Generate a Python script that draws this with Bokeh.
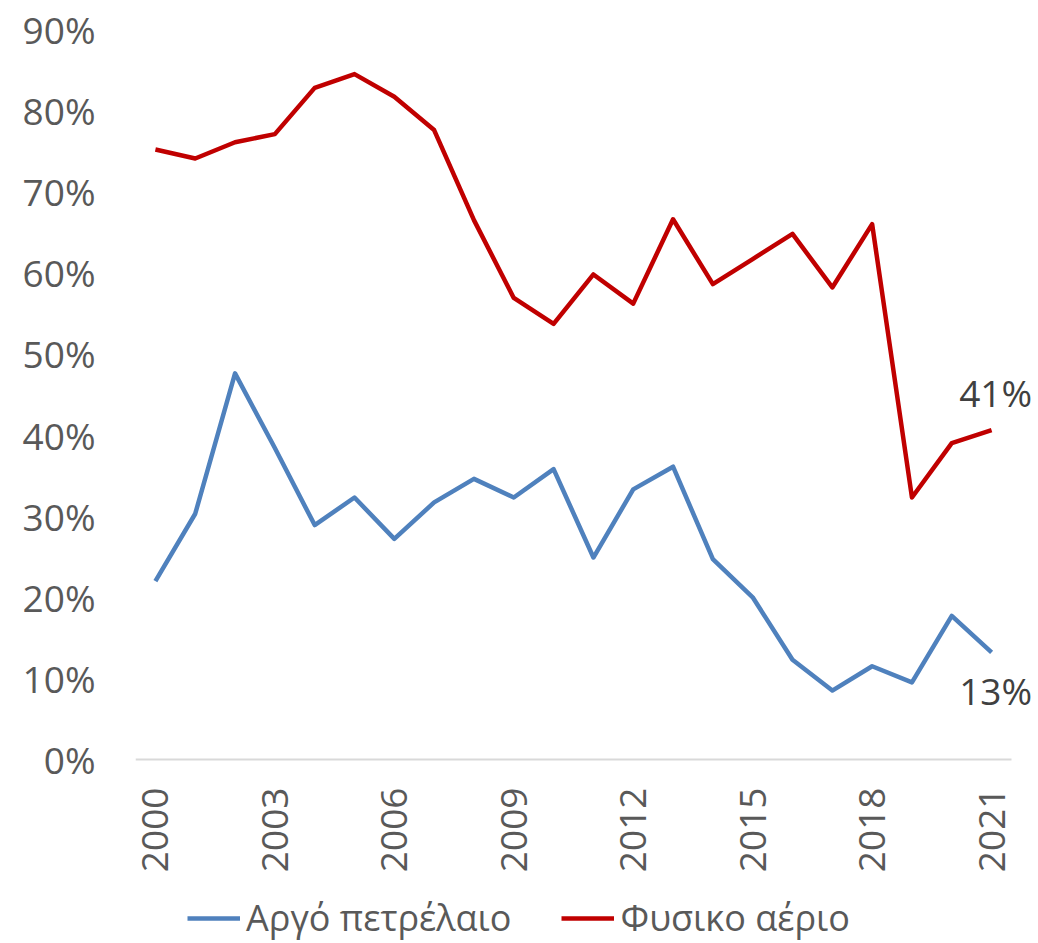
from bokeh.plotting import figure
from bokeh.models import Range1d, FixedTicker, PrintfTickFormatter, Legend, LegendItem, ColumnDataSource, LabelSet
from bokeh.embed import file_html
from bokeh.resources import INLINE
from bokeh.core.properties import value
import math

years = list(range(2000, 2022))
crude_oil = [22.0, 30.3, 47.6, 38.4, 28.9, 32.3, 27.2, 31.7, 34.6, 32.3, 35.8,
             24.9, 33.3, 36.1, 24.7, 20.0, 12.3, 8.5, 11.5, 9.5, 17.7, 13.2]
natural_gas = [75.2, 74.1, 76.1, 77.1, 82.8, 84.5, 81.7, 77.6, 66.5, 56.9, 53.7,
               59.8, 56.2, 66.6, 58.6, 61.7, 64.8, 58.2, 66.0, 32.3, 39.0, 40.6]
series_names = ["Αργό πετρέλαιο", "Φυσικο αέριο"]
x_ticks = [2000, 2003, 2006, 2009, 2012, 2015, 2018, 2021]
y_ticks = [0, 10, 20, 30, 40, 50, 60, 70, 80, 90]

FONT = "Open Sans"
BLUE = "#4f81bd"
RED = "#c00000"

# layout (pixels)
W, H = 1038, 943
AX_LEFT, AX_RIGHT, AX_TOP, AX_BOTTOM = 135, 1011, 29, 759
x0, x1 = years[0] - 0.5, years[-1] + 0.5
px_per_x = (AX_RIGHT - AX_LEFT) / (x1 - x0)
px_per_y = (AX_BOTTOM - AX_TOP) / (y_ticks[-1] - y_ticks[0])
x_end = x0 + (W - AX_LEFT) / px_per_x
y_start = -(H - AX_BOTTOM) / px_per_y

p = figure(width=W, height=H, output_backend="svg", toolbar_location=None,
           x_range=Range1d(x0, x_end), y_range=Range1d(y_start, y_ticks[-1]),
           min_border_left=AX_LEFT, min_border_right=0, min_border_top=AX_TOP, min_border_bottom=0)
p.outline_line_color = None
p.xgrid.visible = False
p.ygrid.visible = False
p.background_fill_color = "white"
p.border_fill_color = "white"

xa = p.xaxis[0]
xa.fixed_location = 0
xa.bounds = (x0, x1)
xa.ticker = FixedTicker(ticks=x_ticks)
xa.major_label_orientation = math.pi / 2
xa.major_tick_line_color = None
xa.minor_tick_line_color = None
xa.axis_line_color = "#d9d9d9"
xa.axis_line_width = 2
xa.major_label_text_font = FONT
xa.major_label_text_font_size = "37px"
xa.major_label_text_color = "#595959"
xa.major_label_standoff = 22

ya = p.yaxis[0]
ya.ticker = FixedTicker(ticks=y_ticks)
ya.formatter = PrintfTickFormatter(format="%d%%")
ya.major_tick_line_color = None
ya.minor_tick_line_color = None
ya.axis_line_color = None
ya.major_label_text_font = FONT
ya.major_label_text_font_size = "37px"
ya.major_label_text_color = "#595959"
ya.major_label_standoff = 34

r1 = p.line(years, crude_oil, line_color=BLUE, line_width=4.5, line_join="round")
r2 = p.line(years, natural_gas, line_color=RED, line_width=4.5, line_join="round")

last_src = ColumnDataSource(dict(
    x=[years[-1], years[-1]],
    y=[natural_gas[-1], crude_oil[-1]],
    t=[f"{round(natural_gas[-1])}%", f"{round(crude_oil[-1])}%"],
    yo=[38, -38],
))
labels = LabelSet(x="x", y="y", text="t", y_offset="yo", x_offset=4, source=last_src,
                  text_align="center", text_baseline="middle", text_font=value(FONT),
                  text_font_size=value("37px"), text_color=value("#404040"))
p.add_layout(labels)

legend = Legend(items=[LegendItem(label=series_names[0], renderers=[r1]),
                       LegendItem(label=series_names[1], renderers=[r2])],
                orientation="horizontal", location=(52, 1),
                label_text_font=FONT, label_text_font_size="36px", label_text_color="#595959",
                glyph_width=53, glyph_height=20, label_standoff=6, spacing=50,
                padding=0, margin=0, border_line_color=None, background_fill_alpha=0)
p.add_layout(legend, "center")

open("out.html", "w").write(file_html(p, INLINE))
